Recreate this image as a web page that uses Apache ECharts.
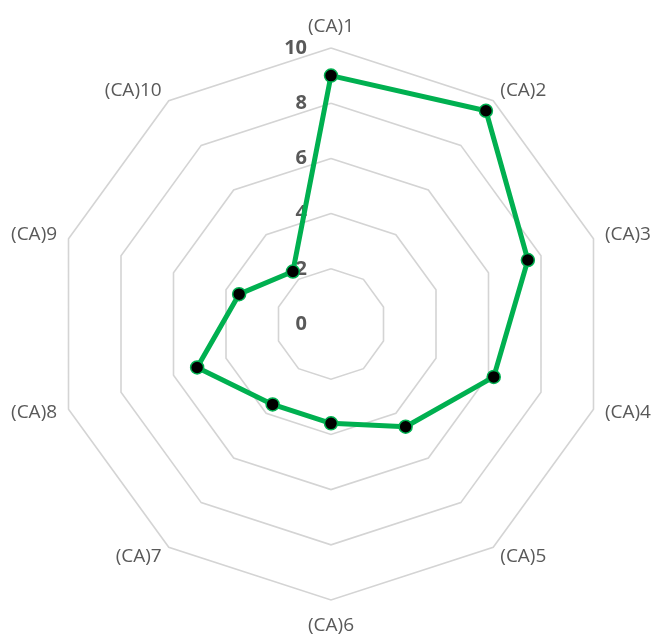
<!DOCTYPE html>
<html>
<head>
<meta charset="utf-8">
<script src="https://cdn.jsdelivr.net/npm/echarts@6/dist/echarts.min.js"></script>
<style>
html,body{margin:0;padding:0;background:#fff;}
#chart{width:652px;height:637px;}
</style>
</head>
<body>
<div id="chart"></div>
<script>
// categories in clockwise order starting at the top
var categories = ['(CA)1','(CA)2','(CA)3','(CA)4','(CA)5','(CA)6','(CA)7','(CA)8','(CA)9','(CA)10'];
var values = [9.0, 9.55, 7.5, 6.2, 4.6, 3.6, 3.6, 5.1, 3.5, 2.35];
var axisMin = 0;
var axisMax = 10;
var axisSplits = 5;

// ECharts lays indicators counterclockwise; reorder so the picture runs clockwise
var order = [0];
for (var i = categories.length - 1; i >= 1; i--) order.push(i);

var indicators = order.map(function (idx, k) {
  var ind = { name: categories[idx], min: axisMin, max: axisMax };
  if (k === 0) {
    ind.axisLabel = {
      show: true,
      color: '#595959',
      fontWeight: 'bold',
      fontSize: 20,
      fontFamily: 'Open Sans',
      margin: 24
    };
  }
  return ind;
});
var seriesValues = order.map(function (idx) { return values[idx]; });

var chart = echarts.init(document.getElementById('chart'), null, { renderer: 'canvas' });
chart.setOption({
  backgroundColor: '#ffffff',
  animation: false,
  radar: {
    center: [331, 324],
    radius: 276,
    startAngle: 90,
    shape: 'polygon',
    splitNumber: axisSplits,
    nameGap: 12,
    axisName: {
      color: '#595959',
      fontSize: 19,
      fontFamily: 'Open Sans',
      padding: [4, 0, 0, 0]
    },
    axisLine: { show: false },
    axisTick: { show: false },
    axisLabel: { show: false },
    splitArea: { show: false },
    splitLine: { lineStyle: { color: '#d4d4d4', width: 1.6 } },
    indicator: indicators
  },
  series: [{
    type: 'radar',
    symbol: 'circle',
    symbolSize: 13,
    lineStyle: { color: '#00b050', width: 5 },
    itemStyle: { color: '#000000', borderColor: '#00b050', borderWidth: 1.5 },
    data: [{ value: seriesValues }]
  }]
});
</script>
</body>
</html>
